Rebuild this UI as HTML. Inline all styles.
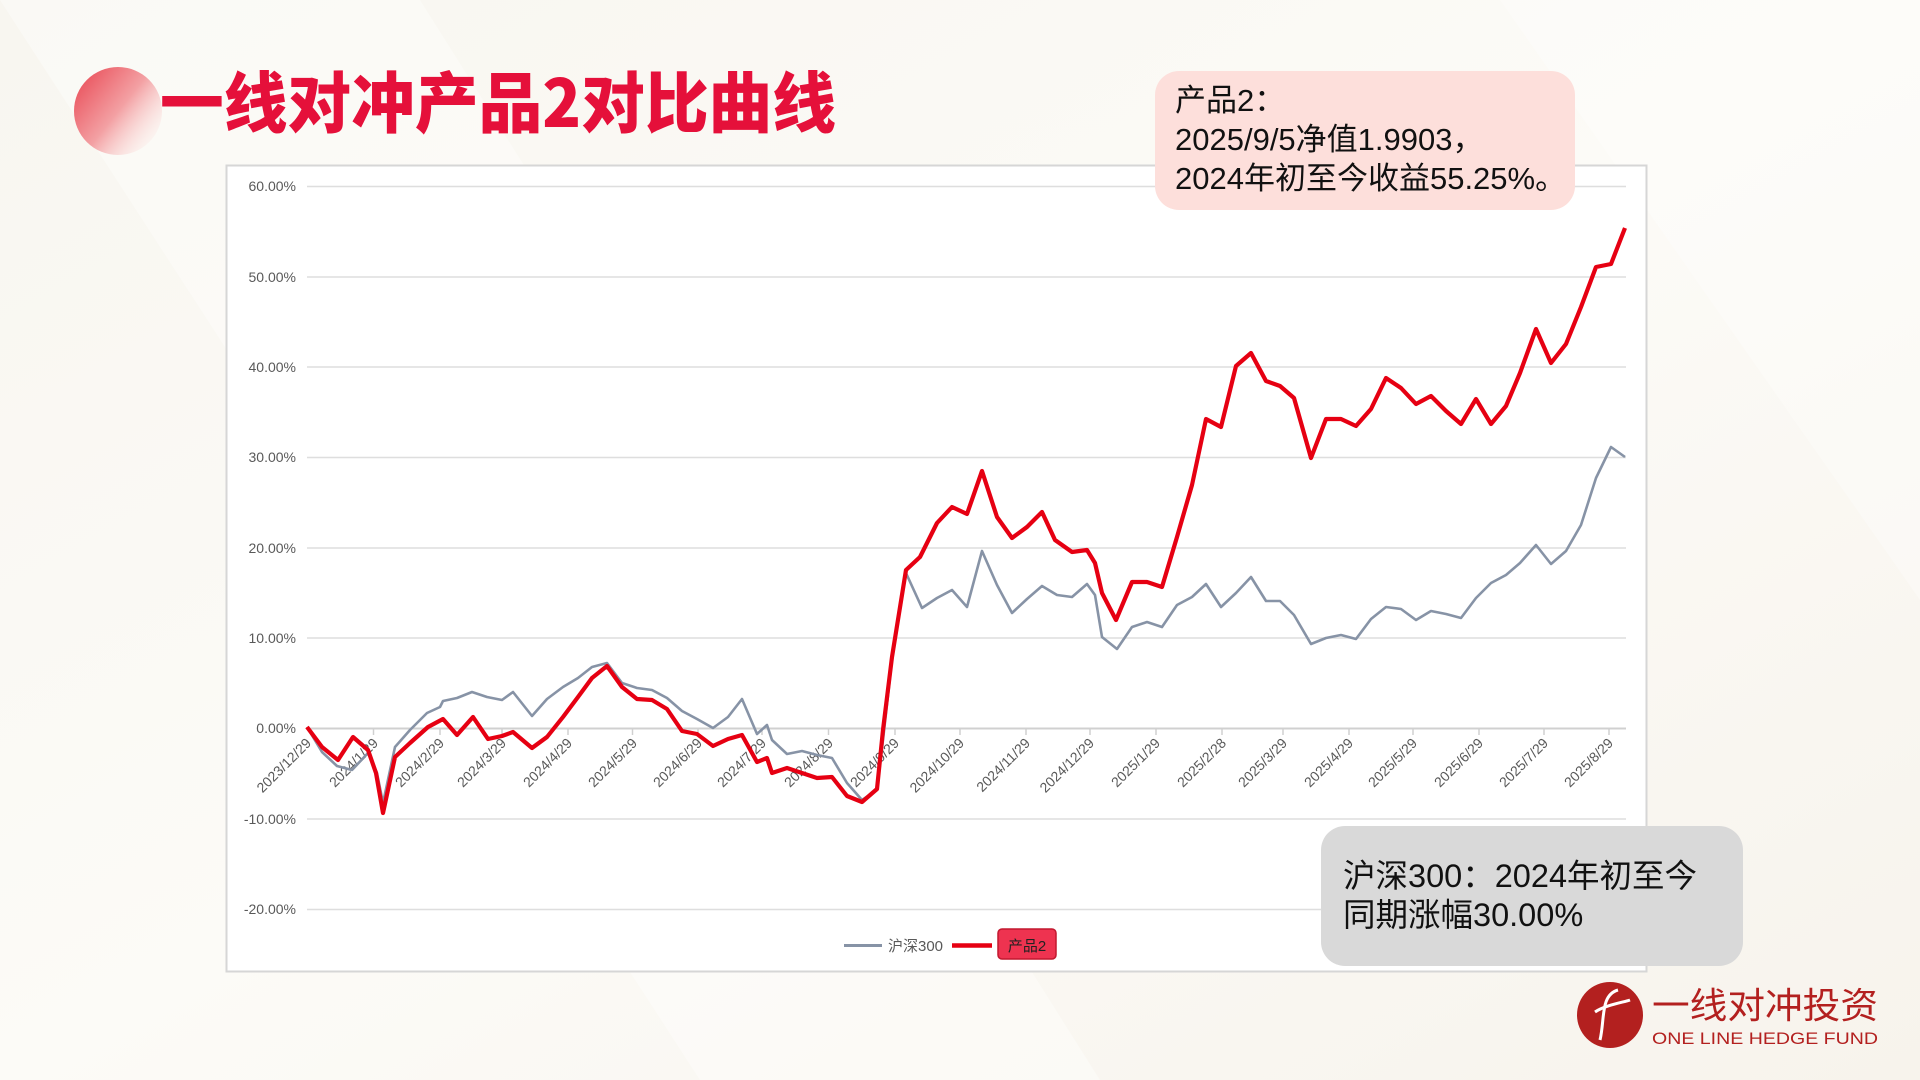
<!DOCTYPE html>
<html><head><meta charset="utf-8"><style>
html,body{margin:0;padding:0;width:1920px;height:1080px;overflow:hidden;background:#faf8f3;}
svg{display:block}
text{font-family:"Liberation Sans","Noto Sans CJK SC",sans-serif;}
</style></head><body>
<svg width="1920" height="1080" viewBox="0 0 1920 1080" xmlns="http://www.w3.org/2000/svg">
<defs>
<linearGradient id="bg" x1="0" y1="0" x2="1" y2="1">
<stop offset="0" stop-color="#f8f6f0"/><stop offset="0.5" stop-color="#fcfbf7"/><stop offset="1" stop-color="#f7f3ec"/>
</linearGradient>
<linearGradient id="ball" x1="0" y1="0" x2="1" y2="0.8">
<stop offset="0" stop-color="#e8434f"/><stop offset="0.55" stop-color="#f3a0a3"/><stop offset="1" stop-color="#fdf4f0" stop-opacity="0.3"/>
</linearGradient>
</defs>
<rect width="1920" height="1080" fill="url(#bg)"/>
<path d="M0 0 L420 0 L1100 1080 L700 1080 Z" fill="#ffffff" opacity="0.35"/>
<path d="M1500 0 L1920 0 L1920 600 Z" fill="#ffffff" opacity="0.3"/>
<ellipse cx="118" cy="111" rx="44" ry="44" fill="url(#ball)"/>
<text x="160" y="127" font-size="66" font-weight="900" fill="#e5103a" style='font-family:"Noto Sans CJK SC",sans-serif' textLength="676" lengthAdjust="spacingAndGlyphs">一线对冲产品2对比曲线</text>
<rect x="226.5" y="165.5" width="1420" height="806" fill="#ffffff" stroke="#d6d6d6" stroke-width="2"/>
<g stroke="#dedede" stroke-width="1.5">
<line x1="307" x2="1626" y1="186.5" y2="186.5"/>
<line x1="307" x2="1626" y1="277" y2="277"/>
<line x1="307" x2="1626" y1="367" y2="367"/>
<line x1="307" x2="1626" y1="457.5" y2="457.5"/>
<line x1="307" x2="1626" y1="548" y2="548"/>
<line x1="307" x2="1626" y1="638" y2="638"/>
<line x1="307" x2="1626" y1="819" y2="819"/>
<line x1="307" x2="1626" y1="909.5" y2="909.5"/>
</g>
<line x1="307" x2="1626" y1="728.5" y2="728.5" stroke="#d0d0d0" stroke-width="2"/>
<g stroke="#d0d0d0" stroke-width="1.5">
<line x1="373.5" x2="373.5" y1="728" y2="735"/><line x1="440" x2="440" y1="728" y2="735"/><line x1="502" x2="502" y1="728" y2="735"/><line x1="568" x2="568" y1="728" y2="735"/><line x1="632.5" x2="632.5" y1="728" y2="735"/><line x1="698" x2="698" y1="728" y2="735"/><line x1="762" x2="762" y1="728" y2="735"/><line x1="828.5" x2="828.5" y1="728" y2="735"/><line x1="895" x2="895" y1="728" y2="735"/><line x1="960" x2="960" y1="728" y2="735"/><line x1="1026" x2="1026" y1="728" y2="735"/><line x1="1090" x2="1090" y1="728" y2="735"/><line x1="1156" x2="1156" y1="728" y2="735"/><line x1="1222" x2="1222" y1="728" y2="735"/><line x1="1283" x2="1283" y1="728" y2="735"/><line x1="1349" x2="1349" y1="728" y2="735"/><line x1="1413" x2="1413" y1="728" y2="735"/><line x1="1479" x2="1479" y1="728" y2="735"/><line x1="1544" x2="1544" y1="728" y2="735"/><line x1="1609" x2="1609" y1="728" y2="735"/>
</g>
<g font-size="14" fill="#595959" text-anchor="end">
<text x="296" y="191">60.00%</text><text x="296" y="282">50.00%</text><text x="296" y="372">40.00%</text><text x="296" y="462">30.00%</text><text x="296" y="553">20.00%</text><text x="296" y="643">10.00%</text><text x="296" y="733">0.00%</text><text x="296" y="824">-10.00%</text><text x="296" y="914">-20.00%</text>
</g>
<g font-size="14" fill="#595959" text-anchor="end">
<text transform="translate(312,744) rotate(-45)">2023/12/29</text>
<text transform="translate(379,744) rotate(-45)">2024/1/29</text>
<text transform="translate(445,744) rotate(-45)">2024/2/29</text>
<text transform="translate(507,744) rotate(-45)">2024/3/29</text>
<text transform="translate(573,744) rotate(-45)">2024/4/29</text>
<text transform="translate(638,744) rotate(-45)">2024/5/29</text>
<text transform="translate(703,744) rotate(-45)">2024/6/29</text>
<text transform="translate(767,744) rotate(-45)">2024/7/29</text>
<text transform="translate(834,744) rotate(-45)">2024/8/29</text>
<text transform="translate(900,744) rotate(-45)">2024/9/29</text>
<text transform="translate(965,744) rotate(-45)">2024/10/29</text>
<text transform="translate(1031,744) rotate(-45)">2024/11/29</text>
<text transform="translate(1095,744) rotate(-45)">2024/12/29</text>
<text transform="translate(1161,744) rotate(-45)">2025/1/29</text>
<text transform="translate(1227,744) rotate(-45)">2025/2/28</text>
<text transform="translate(1288,744) rotate(-45)">2025/3/29</text>
<text transform="translate(1354,744) rotate(-45)">2025/4/29</text>
<text transform="translate(1418,744) rotate(-45)">2025/5/29</text>
<text transform="translate(1484,744) rotate(-45)">2025/6/29</text>
<text transform="translate(1549,744) rotate(-45)">2025/7/29</text>
<text transform="translate(1614,744) rotate(-45)">2025/8/29</text>
</g>
<polyline fill="none" stroke="#8793a6" stroke-width="2.6" stroke-linejoin="round" points="307,727 322,752 337,766 352,770 368,753 377,773 383,803 395,747 410,730 427,713 440,707 443,701 457,698 472,692 487,697 502,700 513,692 532,716 547,699 563,687 578,678 592,667 607,663 622,683 637,688 652,690 667,698 682,711 697,719 713,728 728,717 742,699 757,734 767,725 772,740 787,754 802,751 817,755 832,758 847,783 862,800 877,790 883,740 892,660 906,573 922,608 937,598 952,590 967,607 982,551 997,585 1012,613 1027,599 1042,586 1057,595 1072,597 1087,584 1095,595 1102,637 1117,649 1132,627 1147,622 1162,627 1177,605 1192,597 1206,584 1221,607 1236,593 1251,577 1266,601 1280,601 1294,615 1311,644 1326,638 1341,635 1356,639 1371,619 1386,607 1401,609 1416,620 1431,611 1446,614 1461,618 1476,598 1491,583 1506,575 1520,563 1536,545 1551,564 1566,551 1581,525 1596,478 1611,447 1625,457"/>
<polyline fill="none" stroke="#e60012" stroke-width="4.2" stroke-linejoin="round" points="307,727 322,747 338,760 353,737 368,750 376,773 383,813 395,757 410,743 428,727 443,719 457,735 473,717 488,739 502,736 513,732 532,748 547,737 563,717 578,697 592,678 607,666 622,687 637,699 652,700 667,709 682,731 697,734 713,746 728,739 742,735 757,762 767,758 772,773 787,768 802,773 817,778 832,777 847,796 862,802 877,789 883,730 892,657 906,570 920,557 937,523 952,507 967,514 982,471 997,517 1012,538 1027,527 1042,512 1055,540 1072,552 1087,550 1095,563 1102,593 1116,620 1132,582 1147,582 1162,587 1177,537 1192,485 1206,419 1221,427 1236,366 1251,353 1266,381 1280,386 1294,398 1311,458 1326,419 1341,419 1356,426 1371,409 1386,378 1401,388 1416,404 1431,396 1446,411 1461,424 1476,399 1491,424 1506,406 1520,373 1536,329 1551,363 1566,344 1581,307 1596,267 1611,264 1625,228"/>
<line x1="844" x2="882" y1="945.5" y2="945.5" stroke="#8793a6" stroke-width="3"/>
<text x="888" y="951" font-size="15" fill="#595959">沪深300</text>
<line x1="952" x2="992" y1="945.5" y2="945.5" stroke="#e60012" stroke-width="4.5"/>
<rect x="998" y="929" width="58" height="30" rx="4" fill="#ee3350" stroke="#c2182f" stroke-width="1.5"/>
<text x="1027" y="951" font-size="15" fill="#222" text-anchor="middle">产品2</text>
<rect x="1155" y="71" width="420" height="139" rx="24" fill="#fddfdb"/>
<g font-size="31" fill="#111">
<text x="1175" y="111">产品2：</text>
<text x="1175" y="150">2025/9/5净值1.9903，</text>
<text x="1175" y="189">2024年初至今收益55.25%。</text>
</g>
<rect x="1321" y="826" width="422" height="140" rx="24" fill="#d9d9d9"/>
<g font-size="32.5" fill="#111">
<text x="1343" y="887">沪深300：2024年初至今</text>
<text x="1343" y="926">同期涨幅30.00%</text>
</g>
<circle cx="1610" cy="1015" r="33" fill="#b3201f"/>
<path d="M1618 990 C1600 995 1605 1020 1600 1040 M1595 1012 C1605 1005 1625 1002 1630 1000" stroke="#ffffff" stroke-width="3" fill="none"/>
<text x="1652" y="1018" font-size="36" fill="#b3201f" style='font-family:"Noto Sans CJK SC",sans-serif' textLength="226" lengthAdjust="spacingAndGlyphs">一线对冲投资</text>
<text x="1652" y="1044" font-size="17" fill="#b3201f" textLength="226" lengthAdjust="spacingAndGlyphs">ONE LINE HEDGE FUND</text>
</svg>
</body></html>
